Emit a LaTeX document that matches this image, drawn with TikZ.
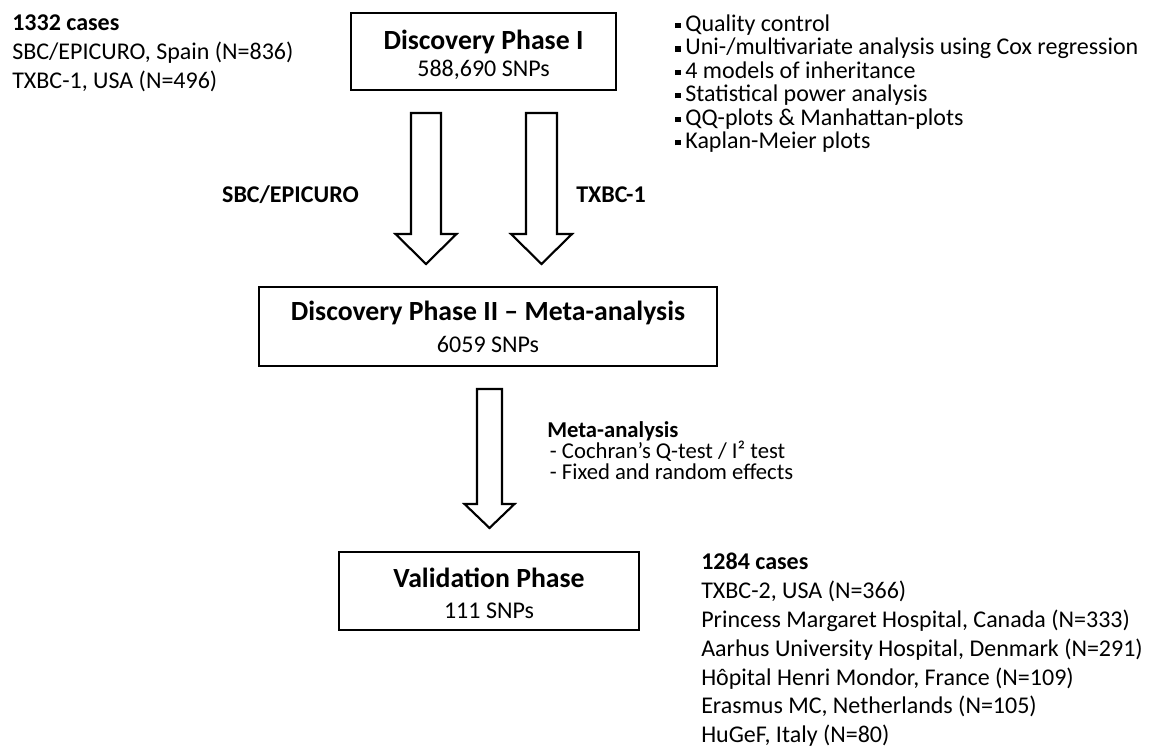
\documentclass[tikz,border=0pt]{standalone}
\usepackage{fontspec}
\setmainfont{Carlito}
\usetikzlibrary{matrix}

\newcommand{\sqbullet}{\rule[2.4pt]{4pt}{4pt}\hspace{3.6pt}}

\begin{document}
\begin{tikzpicture}[x=0.75pt,y=-0.75pt,
    phasebox/.style={draw,rectangle,line width=1.3pt,inner sep=0},
    phasetitle/.style={anchor=base,inner sep=0,font=\fontsize{20.8}{24}\selectfont\bfseries},
    phasesnps/.style={anchor=base,inner sep=0,font=\fontsize{18}{21}\selectfont},
    armlabel/.style={inner sep=0,font=\fontsize{18}{21}\selectfont\bfseries},
    blockarrow/.style={draw,line width=1.6pt,line join=miter,fill=white}]

  \path [use as bounding box,fill=white] (0,0) rectangle (1153,748);

  % cohorts of the discovery phase
  \matrix [matrix of nodes,inner sep=0,row sep=0pt,anchor=north west,
    nodes={anchor=base west,inner sep=0,text height=13pt,text depth=8.75pt,font=\fontsize{18}{21}\selectfont}]
    (disc) at (12,12.7) {
    \textbf{1332 cases} \\
    SBC/EPICURO, Spain (N=836) \\
    TXBC-1, USA (N=496) \\
  };

  % analysis steps
  \matrix [matrix of nodes,inner sep=0,row sep=0pt,anchor=north west,
    nodes={anchor=base west,inner sep=0,text height=13pt,text depth=4.6pt,font=\fontsize{18}{21}\selectfont}]
    (steps) at (675,13.7) {
    \sqbullet Quality control \\
    \sqbullet Uni-/multivariate analysis using Cox regression \\
    \sqbullet 4 models of inheritance \\
    \sqbullet Statistical power analysis \\
    \sqbullet QQ-plots \& Manhattan-plots \\
    \sqbullet Kaplan-Meier plots \\
  };

  % phases
  \node [phasebox,minimum width=198.75pt,minimum height=57.75pt] (P1) at (483.5,51.5) {};
  \node [phasetitle] (P1title) at (483.5,50) {Discovery Phase I};
  \node [phasesnps] (P1snps) at (483.5,77) {588,690 SNPs};

  \node [phasebox,minimum width=343.5pt,minimum height=59.25pt] (P2) at (488,326.5) {};
  \node [phasetitle] (P2title) at (488,321) {Discovery Phase II -- Meta-analysis};
  \node [phasesnps] (P2snps) at (488,353) {6059 SNPs};

  \node [phasebox,minimum width=225pt,minimum height=58.5pt] (P3) at (489,591) {};
  \node [phasetitle] (P3title) at (489,587) {Validation Phase};
  \node [phasesnps] (P3snps) at (489,618) {111 SNPs};

  % block arrows
  \coordinate (arrSBC) at (426,113);
  \coordinate (arrTX) at (541.5,113);
  \coordinate (arrMeta) at (489.5,389);

  \draw [blockarrow] (arrSBC) ++(-15,0) -- ++(30,0) -- ++(0,121) -- ++(15.5,0)
    -- ++(-30.5,30) -- ++(-30.5,-30) -- ++(15.5,0) -- cycle;
  \draw [blockarrow] (arrTX) ++(-15.5,0) -- ++(31,0) -- ++(0,121) -- ++(15,0)
    -- ++(-30.5,30) -- ++(-30.5,-30) -- ++(15,0) -- cycle;
  \draw [blockarrow] (arrMeta) ++(-12.5,0) -- ++(25,0) -- ++(0,115) -- ++(12.5,0)
    -- ++(-25,24) -- ++(-25,-24) -- ++(12.5,0) -- cycle;

  \node [armlabel,anchor=base east] (SBClab) at (359,203) {SBC/EPICURO};
  \node [armlabel,anchor=base west] (TXlab) at (576,203) {TXBC-1};

  % meta-analysis methods
  \matrix [matrix of nodes,inner sep=0,row sep=0pt,anchor=north west,
    nodes={anchor=base west,inner sep=0,text height=12pt,text depth=3.75pt,font=\fontsize{17}{20}\selectfont}]
    (meta) at (547,421) {
    \textbf{Meta-analysis} \\
    \hspace{2pt}- Cochran’s Q-test / I² test \\
    \hspace{2pt}- Fixed and random effects \\
  };

  % cohorts of the validation phase
  \matrix [matrix of nodes,inner sep=0,row sep=0pt,anchor=north west,
    nodes={anchor=base west,inner sep=0,text height=13pt,text depth=8.7pt,font=\fontsize{18}{21}\selectfont}]
    (valid) at (701,551.7) {
    \textbf{1284 cases} \\
    TXBC-2, USA (N=366) \\
    Princess Margaret Hospital, Canada (N=333) \\
    Aarhus University Hospital, Denmark (N=291) \\
    Hôpital Henri Mondor, France (N=109) \\
    Erasmus MC, Netherlands (N=105) \\
    HuGeF, Italy (N=80) \\
  };

\end{tikzpicture}
\end{document}
